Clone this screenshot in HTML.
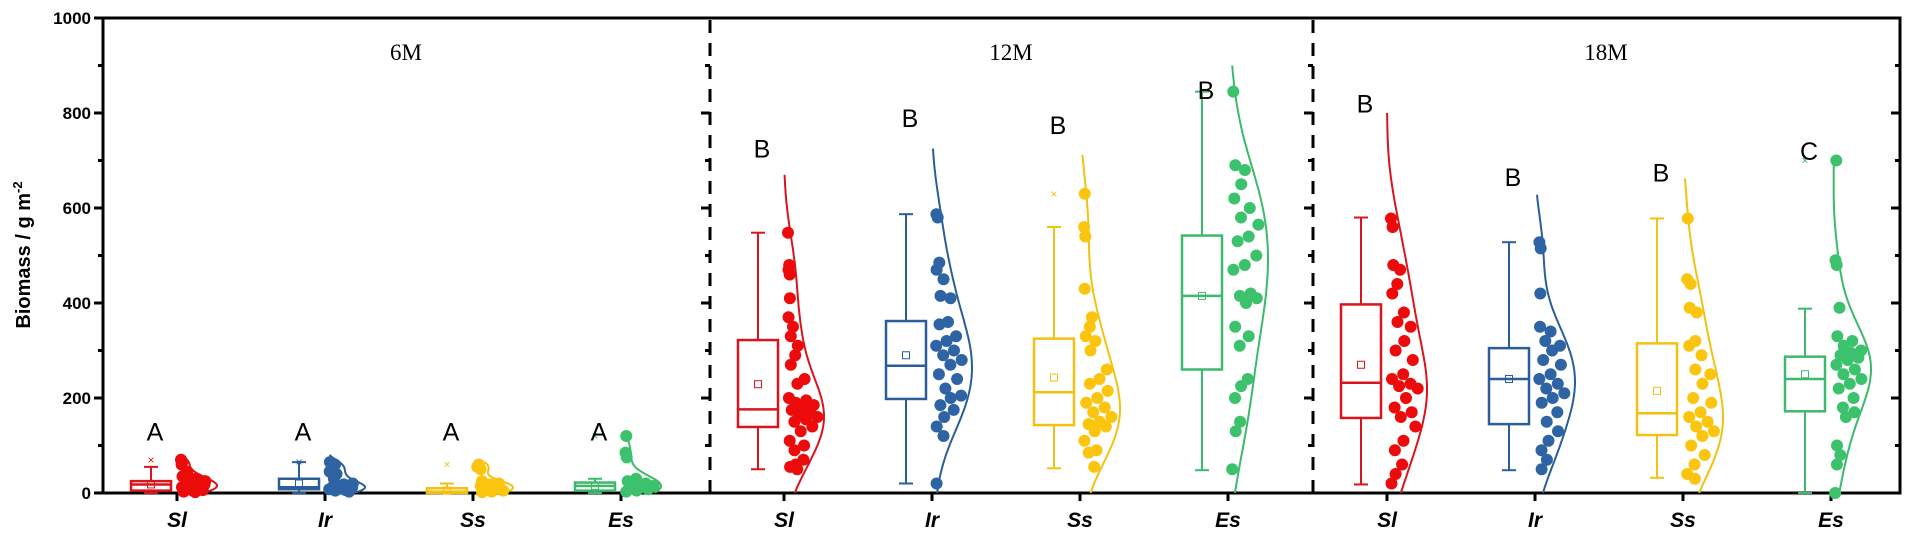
<!DOCTYPE html>
<html><head><meta charset="utf-8"><style>
html,body{margin:0;padding:0;background:#fff;}
svg{display:block;}
text{font-family:"Liberation Sans",Arial,sans-serif;}
</style></head><body>
<svg id="chart" width="1908" height="547" viewBox="0 0 1908 547" xmlns="http://www.w3.org/2000/svg"></svg>
<script>
// ---- data ----
const periods = ["6M","12M","18M"];
const species = ["Sl","Ir","Ss","Es"];
const letters = [["A","A","A","A"],["B","B","B","B"],["B","B","B","C"]];
const letterY = [[130,130,130,130],[725,790,775,848],[820,665,675,720]];
const boxQ1 = [[5,8,0,5],[139,198,143,260],[158,145,122,172]];
const boxMed = [[18,12,3,15],[176,268,212,415],[232,240,168,240]];
const boxQ3 = [[25,30,10,22],[322,362,325,542],[397,305,315,287]];
const boxMean = [[18,20,5,15],[229,290,243,415],[270,240,215,250]];
const whiskLo = [[0,0,0,0],[50,20,52,48],[18,48,32,0]];
const whiskHi = [[55,65,20,30],[548,587,560,845],[580,528,578,388]];
const outliers = [[70,65,60,120],[null,null,630,null],[null,null,null,700]];
const curveTop = [[75,80,65,125],[670,725,712,900],[800,628,662,700]];
const pts6 = [
 [70,65,60,45,40,35,30,28,25,22,20,18,15,12,10,8,6,5,3,2],
 [65,60,55,45,40,30,20,18,15,12,10,8,6,5,3],
 [60,55,50,25,20,18,15,10,8,5,3,2],
 [120,85,75,30,25,20,18,15,12,10,8,5,3]];
const pts12 = [
 [548,480,470,460,410,370,350,330,310,290,270,240,230,200,195,190,185,180,175,170,165,160,155,150,140,130,110,100,90,70,60,55,50],
 [587,580,485,470,450,415,410,360,355,330,320,310,300,290,280,270,250,240,220,205,200,185,175,160,140,120,20],
 [630,560,540,430,370,350,330,320,300,260,240,230,215,200,190,180,170,160,150,145,140,130,110,90,85,55],
 [845,690,680,650,620,600,580,565,540,530,500,480,470,420,415,410,400,350,330,310,240,225,200,150,130,50]];
const pts18 = [
 [578,560,480,470,440,420,380,360,350,320,300,280,250,240,230,225,220,200,180,170,160,140,110,90,60,40,20],
 [528,515,420,350,340,320,310,300,280,270,250,240,230,220,210,200,190,170,150,130,110,90,70,50],
 [578,450,440,390,380,320,310,290,260,250,230,200,190,170,160,150,140,130,120,100,80,60,40,30],
 [700,490,480,390,330,320,310,300,295,290,285,280,270,260,250,240,230,220,200,180,170,160,100,80,60,0]];
const points = [pts6, pts12, pts18];
const yTicks = [0,200,400,600,800,1000];

// ---- layout ----
const NS="http://www.w3.org/2000/svg";
const svg=document.getElementById('chart');
const X0=103, X1=1900, Y0=493, Ytop=18;
const y = v => Y0 - (v/1000)*(Y0-Ytop);
const groupStart=[177,784,1387], step=148;
const xTick=(g,s)=>groupStart[g]+s*step;
const dividers=[710,1313];
const groupCenter=[406,1011,1606];
const lineCol=["#d8141c","#2b5d9a","#f2c111","#3cb96c"];
const dotCol=["#ec0b0b","#2e64a4","#fbc50f","#3cc26c"];
function el(tag,attrs,parent){const e=document.createElementNS(NS,tag);for(const k in attrs)e.setAttribute(k,attrs[k]);(parent||svg).appendChild(e);return e;}

const defs=el('defs',{});
const cp=el('clipPath',{id:'plotclip'},defs);
el('rect',{x:X0,y:Ytop,width:X1-X0,height:Y0-Ytop},cp);

// frame
const frame=el('rect',{x:X0,y:Ytop,width:X1-X0,height:Y0-Ytop,fill:'none',stroke:'#000','stroke-width':3});



// y ticks
for(let v=0;v<=1000;v+=100){
  const major=v%200===0;
  const t=el('line',{x1:X0-(major?9:5),x2:X0,y1:y(v),y2:y(v),stroke:'#000','stroke-width':3});
  
  
  const r=el('line',{x1:X1,x2:X1-(major?9:5),y1:y(v),y2:y(v),stroke:'#000','stroke-width':3});
  
  
  dividers.forEach(d=>{
    const dt=el('line',{x1:d-(major?9:5),x2:d,y1:y(v),y2:y(v),stroke:'#000','stroke-width':3});
    
    
  });
}
yTicks.forEach(v=>{
  const t=el('text',{x:X0-12,y:y(v)+6,'text-anchor':'end','font-size':17,'font-weight':'bold'});
  t.textContent=v;
  
  
});
const yt=el('text',{x:0,y:0,transform:'translate(30,255) rotate(-90)','text-anchor':'middle','font-size':20,'font-weight':'bold'});


yt.innerHTML='Biomass / g m<tspan dy="-8" font-size="13">-2</tspan>';

// dividers
dividers.forEach(d=>{
  const l=el('line',{x1:d,x2:d,y1:Ytop+2,y2:Y0,stroke:'#000','stroke-width':3,'stroke-dasharray':'13,10'});
  
  
});

// group titles
periods.forEach((p,g)=>{
  const t=el('text',{x:groupCenter[g],y:60,'text-anchor':'middle','font-size':23});
  t.setAttribute('style','font-family:"Liberation Serif",serif');
  t.textContent=p;
  
  
});

function kde(vals,v,bw){let s=0;for(const a of vals){const z=(v-a)/bw;s+=Math.exp(-0.5*z*z);}return s;}

for(let g=0;g<3;g++){
  for(let s=0;s<4;s++){
    const tx=xTick(g,s), bc=tx-26, bw2=20, lc=lineCol[s], dc=dotCol[s];
    const grp=el('g',{});
    
    
    el('line',{x1:tx,x2:tx,y1:Y0,y2:Y0+8,stroke:'#000','stroke-width':3},grp);
    const xl=el('text',{x:tx,y:527,'text-anchor':'middle','font-size':21,'font-weight':'bold','font-style':'italic'},grp);
    xl.textContent=species[s];
    
    
    const wh=el('line',{x1:bc,x2:bc,y1:y(whiskLo[g][s]),y2:y(whiskHi[g][s]),stroke:lc,'stroke-width':2},grp);
    
    
    [whiskLo[g][s],whiskHi[g][s]].forEach(v=>el('line',{x1:bc-7,x2:bc+7,y1:y(v),y2:y(v),stroke:lc,'stroke-width':2},grp));
    const bx=el('rect',{x:bc-bw2,y:y(boxQ3[g][s]),width:bw2*2,height:Math.max(1,y(boxQ1[g][s])-y(boxQ3[g][s])),fill:'#fff',stroke:lc,'stroke-width':2.5},grp);
    
    
    el('line',{x1:bc-bw2,x2:bc+bw2,y1:y(boxMed[g][s]),y2:y(boxMed[g][s]),stroke:lc,'stroke-width':2.5},grp);
    el('rect',{x:bc-3.5,y:y(boxMean[g][s])-3.5,width:7,height:7,fill:'none',stroke:lc,'stroke-width':1},grp);
    if(outliers[g][s]!==null){
      const o=el('text',{x:bc,y:y(outliers[g][s])+4,'text-anchor':'middle','font-size':12,fill:lc},grp);
      o.textContent='×';
      
      
    }
    // density curve
    const vals=points[g][s];
    const n=vals.length, mean=vals.reduce((a,b)=>a+b,0)/n;
    const sd=Math.sqrt(vals.reduce((a,b)=>a+(b-mean)*(b-mean),0)/n)||1;
    const bw=1.06*sd*Math.pow(n,-0.2);
    const vtop=curveTop[g][s];
    let peak=0; const samples=[];
    for(let i=0;i<=120;i++){const v=vtop*i/120;const d=kde(vals,v,bw);samples.push([v,d]);if(d>peak)peak=d;}
    const W=40;
    const cw=v=>kde(vals,v,bw)/peak*W;
    const dpath=samples.map((p,i)=>(i?'L':'M')+(tx+p[1]/peak*W).toFixed(1)+','+y(p[0]).toFixed(1)).join(' ');
    const cur=el('path',{d:dpath,fill:'none',stroke:lc,'stroke-width':2,'clip-path':'url(#plotclip)'},grp);
    
    
    vals.forEach((v,i)=>{
      const f=(i*0.618034+0.21*s)%1;
      const cx=tx+4+f*Math.max(2,cw(v)-10);
      const c=el('circle',{cx:cx.toFixed(1),cy:y(v).toFixed(1),r:6,fill:dc},grp);
      
      
    });
    const lt=el('text',{x:tx-22,y:y(letterY[g][s])+9,'text-anchor':'middle','font-size':25},grp);
    lt.textContent=letters[g][s];
    
    
  }
}
</script>
</body></html>
